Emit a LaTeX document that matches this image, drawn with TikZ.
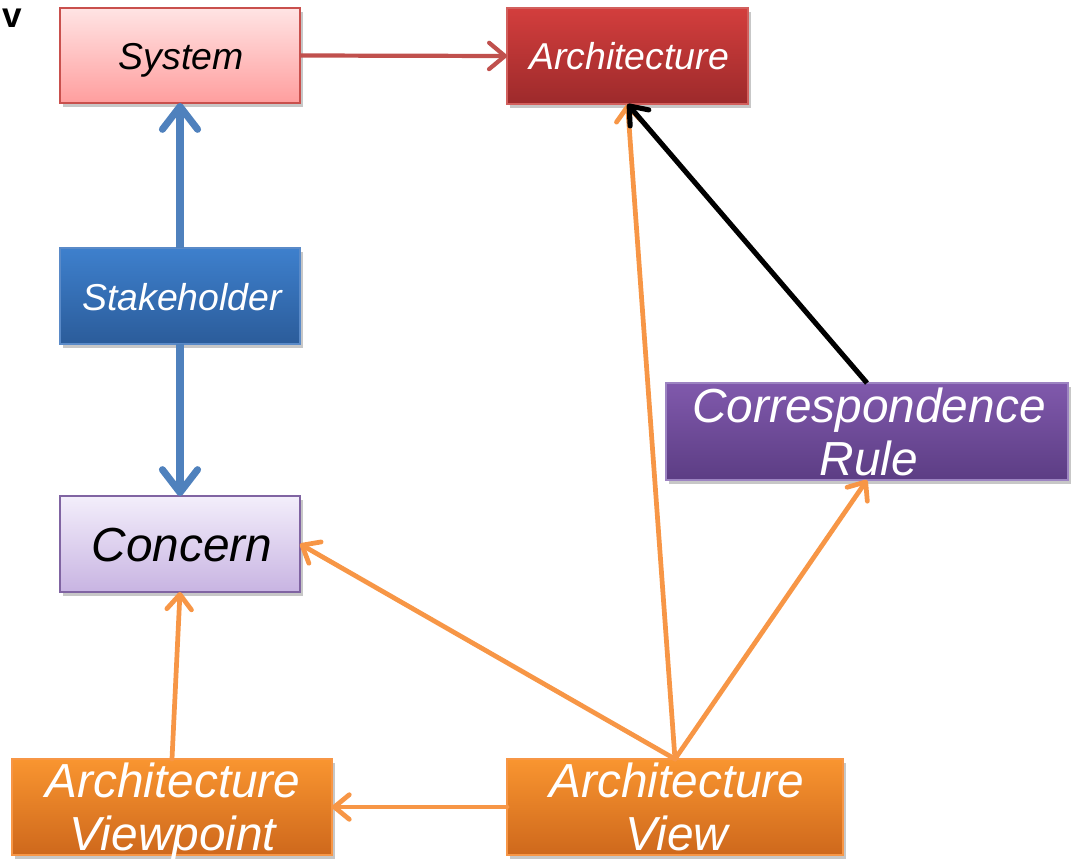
\documentclass[tikz,border=0pt]{standalone}
\usepackage{fontspec}
\setmainfont{Liberation Sans}
\usetikzlibrary{arrows.meta,shadows}

\definecolor{sysTop}{HTML}{FFE4E4}
\definecolor{sysBot}{HTML}{FF9E9E}
\definecolor{sysLine}{HTML}{C9504D}
\definecolor{archTop}{HTML}{D33E3D}
\definecolor{archBot}{HTML}{9D2A2B}
\definecolor{archLine}{HTML}{D2605D}
\definecolor{stkTop}{HTML}{3E80CD}
\definecolor{stkBot}{HTML}{2B5C9A}
\definecolor{stkLine}{HTML}{5A8AC8}
\definecolor{conTop}{HTML}{F3EEFB}
\definecolor{conBot}{HTML}{C8B4E2}
\definecolor{conLine}{HTML}{8064A2}
\definecolor{corTop}{HTML}{8059AC}
\definecolor{corBot}{HTML}{5C3D84}
\definecolor{corLine}{HTML}{9D84C2}
\definecolor{orgTop}{HTML}{F99530}
\definecolor{orgBot}{HTML}{CE681C}
\definecolor{orgLine}{HTML}{F79646}
\definecolor{blueArrow}{HTML}{4F81BD}
\definecolor{redArrow}{HTML}{C0504D}
\definecolor{orangeArrow}{HTML}{F79646}

\tikzset{
  box/.style={rectangle, inner sep=0pt, outer sep=0pt, line width=1pt,
    drop shadow={shadow xshift=1.5pt, shadow yshift=-2pt, opacity=0.22, fill=black}},
  sysbox/.style={box, draw=sysLine, top color=sysTop, bottom color=sysBot},
  archbox/.style={box, draw=archLine, top color=archTop, bottom color=archBot},
  stkbox/.style={box, draw=stkLine, top color=stkTop, bottom color=stkBot},
  conbox/.style={box, draw=conLine, top color=conTop, bottom color=conBot},
  corbox/.style={box, draw=corLine, top color=corTop, bottom color=corBot},
  orgbox/.style={box, draw=orgLine, top color=orgTop, bottom color=orgBot},
  smalltxt/.style={anchor=base, inner sep=0pt, font=\itshape\fontsize{21.3}{24}\selectfont},
  bigtxt/.style={anchor=base, inner sep=0pt, font=\itshape\fontsize{27.2}{30}\selectfont},
  redlink/.style={draw=redArrow, line width=2.4pt,
    -{Straight Barb[length=9pt,width=15pt,round]}},
  bluelink/.style={draw=blueArrow, line width=4pt,
    -{Straight Barb[length=13pt,width=20pt,round]}},
  orglink/.style={draw=orangeArrow, line width=2.7pt, line cap=round,
    -{Straight Barb[length=8.5pt,width=14pt,round]}},
  blacklink/.style={draw=black, line width=2.9pt,
    -{Straight Barb[length=9pt,width=14pt,round]}},
}

\begin{document}
\begin{tikzpicture}[x=0.02cm, y=-0.02cm]
\useasboundingbox (0,0) rectangle (1072,862);

% stray letter in the corner
\node[anchor=base, inner sep=0pt, font=\bfseries\fontsize{20}{22}\selectfont] (vmark) at (12,28) {v};

% boxes
\node[sysbox,  minimum width=4.80cm, minimum height=1.90cm] (sys)   at (180,55.5) {};
\node[archbox, minimum width=4.82cm, minimum height=1.92cm] (arch)  at (627.5,56) {};
\node[stkbox,  minimum width=4.80cm, minimum height=1.92cm] (stake) at (180,296) {};
\node[conbox,  minimum width=4.80cm, minimum height=1.92cm] (con)   at (180,544) {};
\node[corbox,  minimum width=8.04cm, minimum height=1.94cm] (cor)   at (867,431.5) {};
\node[orgbox,  minimum width=6.40cm, minimum height=1.92cm] (vp)    at (172,807) {};
\node[orgbox,  minimum width=6.72cm, minimum height=1.92cm] (view)  at (675,807) {};

% labels
\node[smalltxt, text=black] (sysT)   at (181,70) {System};
\node[smalltxt, text=white] (archT)  at (629,70) {Architecture};
\node[smalltxt, text=white] (stakeT) at (182,310) {Stakeholder};
\node[bigtxt,   text=black] (conT)   at (182,561) {Concern};
\node[bigtxt,   text=white] (corT1)  at (869,422) {Correspondence};
\node[bigtxt,   text=white] (corT2)  at (869,475) {Rule};
\node[bigtxt,   text=white] (vpT1)   at (173,797) {Architecture};
\node[bigtxt,   text=white] (vpT2)   at (173,850) {Viewpoint};
\node[bigtxt,   text=white] (viewT1) at (677,797) {Architecture};
\node[bigtxt,   text=white] (viewT2) at (677,850) {View};

% connectors
\draw[redlink]  (sys.east) -- (arch.west);
\draw[bluelink] (stake.north) -- (sys.south);
\draw[bluelink] (stake.south) -- (con.north);
\draw[orglink]  (vp.north) -- (con.south);
\draw[orglink]  (view.north) -- (con.east);
\draw[orglink]  (view.north) -- (arch.south);
\draw[orglink]  (view.north) -- (cor.south);
\draw[orglink]  (view.west) -- (vp.east);
\draw[blacklink] (cor.north) -- (arch.south);
\end{tikzpicture}
\end{document}
